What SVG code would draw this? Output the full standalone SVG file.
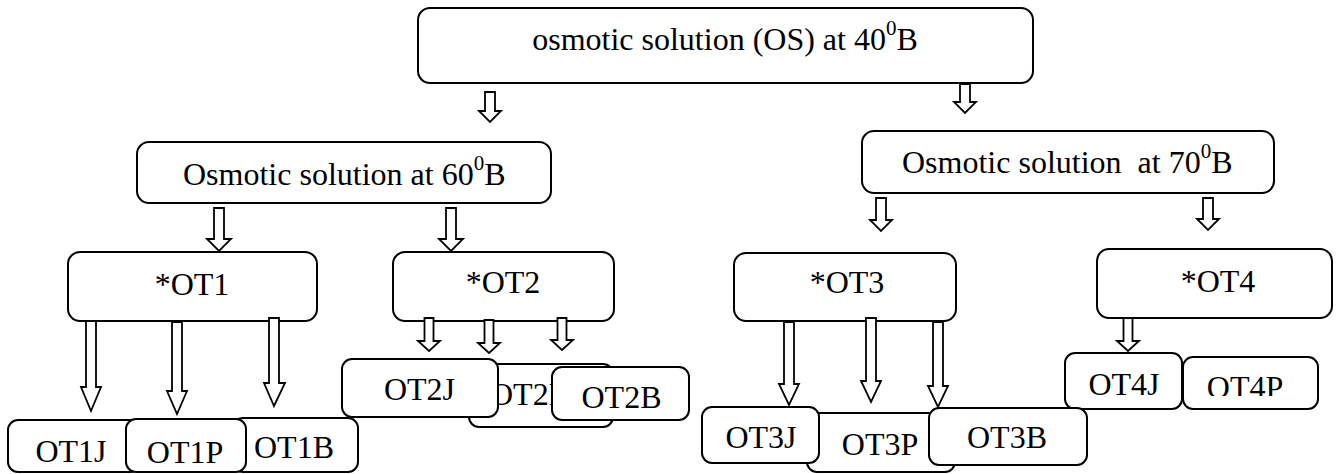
<svg xmlns="http://www.w3.org/2000/svg" width="1342" height="474" viewBox="0 0 1342 474">
<style>
.box{fill:#fff;stroke:#000;stroke-width:2}
text{font-family:'Liberation Serif',Tinos,'DejaVu Serif','Noto Serif',serif;font-size:32px;fill:#000;white-space:pre}
.m{text-anchor:middle}
.sup{font-size:21px}
.arr{fill:#fff;stroke:#000;stroke-width:1.8;stroke-linejoin:miter}
</style>
<defs>
<clipPath id="clip4p"><rect x="1183" y="357" width="135" height="39"/></clipPath>
</defs>
<rect width="1342" height="474" fill="#fff"/>
<g id="os40"><rect class="box" x="418" y="8" width="615" height="75" rx="12"/><text class="m" x="725" y="50" font-family="Liberation Serif, serif">osmotic solution (OS) at 40<tspan class="sup" dy="-15">0</tspan><tspan dy="15">B</tspan></text></g>
<g id="os60"><rect class="box" x="137" y="142" width="414" height="61" rx="12"/><text x="183" y="185" font-family="Liberation Serif, serif">Osmotic solution at 60<tspan class="sup" dy="-15">0</tspan><tspan dy="15">B</tspan></text></g>
<g id="os70"><rect class="box" x="862" y="131" width="412" height="62" rx="12"/><text x="902" y="173" font-family="Liberation Serif, serif">Osmotic solution  at 70<tspan class="sup" dy="-15">0</tspan><tspan dy="15">B</tspan></text></g>
<g id="ot1"><rect class="box" x="68" y="252" width="249" height="69" rx="12"/><text class="m" x="192" y="295" font-family="Liberation Serif, serif">*OT1</text></g>
<g id="ot2"><rect class="box" x="393" y="252" width="221" height="69" rx="12"/><text class="m" x="503" y="293" font-family="Liberation Serif, serif">*OT2</text></g>
<g id="ot3"><rect class="box" x="734" y="253" width="222" height="68" rx="12"/><text class="m" x="847" y="293" font-family="Liberation Serif, serif">*OT3</text></g>
<g id="ot4"><rect class="box" x="1097" y="249" width="235" height="69" rx="12"/><text class="m" x="1218" y="292" font-family="Liberation Serif, serif">*OT4</text></g>
<g id="ot1j"><rect class="box" x="8" y="420" width="132" height="52" rx="10"/><text class="m" x="71" y="462" font-family="Liberation Serif, serif">OT1J</text></g>
<g id="ot1b"><rect class="box" x="233" y="418" width="125" height="54" rx="10"/><text class="m" x="294" y="458" font-family="Liberation Serif, serif">OT1B</text></g>
<g id="ot1p"><rect class="box" x="126" y="419" width="120" height="53" rx="10"/><text class="m" x="185" y="463" font-family="Liberation Serif, serif">OT1P</text></g>
<g id="ot2p"><rect class="box" x="469" y="364" width="144" height="63" rx="10"/><text x="490" y="405" font-family="Liberation Serif, serif">OT2P</text></g>
<g id="ot2j"><rect class="box" x="342" y="359" width="156" height="58" rx="10"/><text class="m" x="419.5" y="400" font-family="Liberation Serif, serif">OT2J</text></g>
<g id="ot2b"><rect class="box" x="552" y="367" width="137" height="53" rx="10"/><text class="m" x="621.5" y="408" font-family="Liberation Serif, serif">OT2B</text></g>
<g id="ot3p"><rect class="box" x="807" y="413" width="148" height="59" rx="10"/><text class="m" x="880" y="455" font-family="Liberation Serif, serif">OT3P</text></g>
<g id="ot3j"><rect class="box" x="702" y="407" width="117" height="56" rx="10"/><text class="m" x="761" y="448" font-family="Liberation Serif, serif">OT3J</text></g>
<g id="ot4j"><rect class="box" x="1065" y="353" width="117" height="56" rx="10"/><text class="m" x="1124" y="395" font-family="Liberation Serif, serif">OT4J</text></g>
<g id="ot3b"><rect class="box" x="929" y="408" width="158" height="57" rx="10"/><text class="m" x="1007" y="448" font-family="Liberation Serif, serif">OT3B</text></g>
<g id="ot4p"><rect class="box" x="1183" y="357" width="135" height="52" rx="10"/><text class="m" x="1245" y="398" clip-path="url(#clip4p)" font-family="Liberation Serif, serif">OT4P</text></g>
<g id="connectors">
<polygon class="arr" points="485,92 495,92 495,111 501,111 490,122 479,111 485,111"/>
<polygon class="arr" points="960,84 970,84 970,102 976,102 965,113 954,102 960,102"/>
<polygon class="arr" points="214,208 224,208 224,239 231,239 219,251 207,239 214,239"/>
<polygon class="arr" points="446,208 456,208 456,239 463,239 451,251 439,239 446,239"/>
<polygon class="arr" points="876,198 886,198 886,220 892,220 881,231 870,220 876,220"/>
<polygon class="arr" points="1203,198 1213,198 1213,219 1219,219 1208,230 1197,219 1203,219"/>
<polygon class="arr" points="86,321 96,321 96,387 101,387 91,411 81,387 86,387"/>
<polygon class="arr" points="172,322 182,322 182,391 187,391 177,414 167,391 172,391"/>
<polygon class="arr" points="269,318 279,318 279,383 285,383 274,406 264,383 269,383"/>
<polygon class="arr" points="424.5,318 433.5,318 433.5,341 440,341 429,351 418,341 424.5,341"/>
<polygon class="arr" points="484.5,320 493.5,320 493.5,343 500,343 489,353 478,343 484.5,343"/>
<polygon class="arr" points="557.5,318 566.5,318 566.5,340 573,340 562,350 551,340 557.5,340"/>
<polygon class="arr" points="784,322 794,322 794,384 799,384 789,405 779,384 784,384"/>
<polygon class="arr" points="866,318 876,318 876,381 881,381 871,402 861,381 866,381"/>
<polygon class="arr" points="933,322 943,322 943,386 948,386 938,407 928,386 933,386"/>
<polygon class="arr" points="1123.5,318 1132.5,318 1132.5,341 1139,341 1128,351 1117,341 1123.5,341"/>
</g>
</svg>
